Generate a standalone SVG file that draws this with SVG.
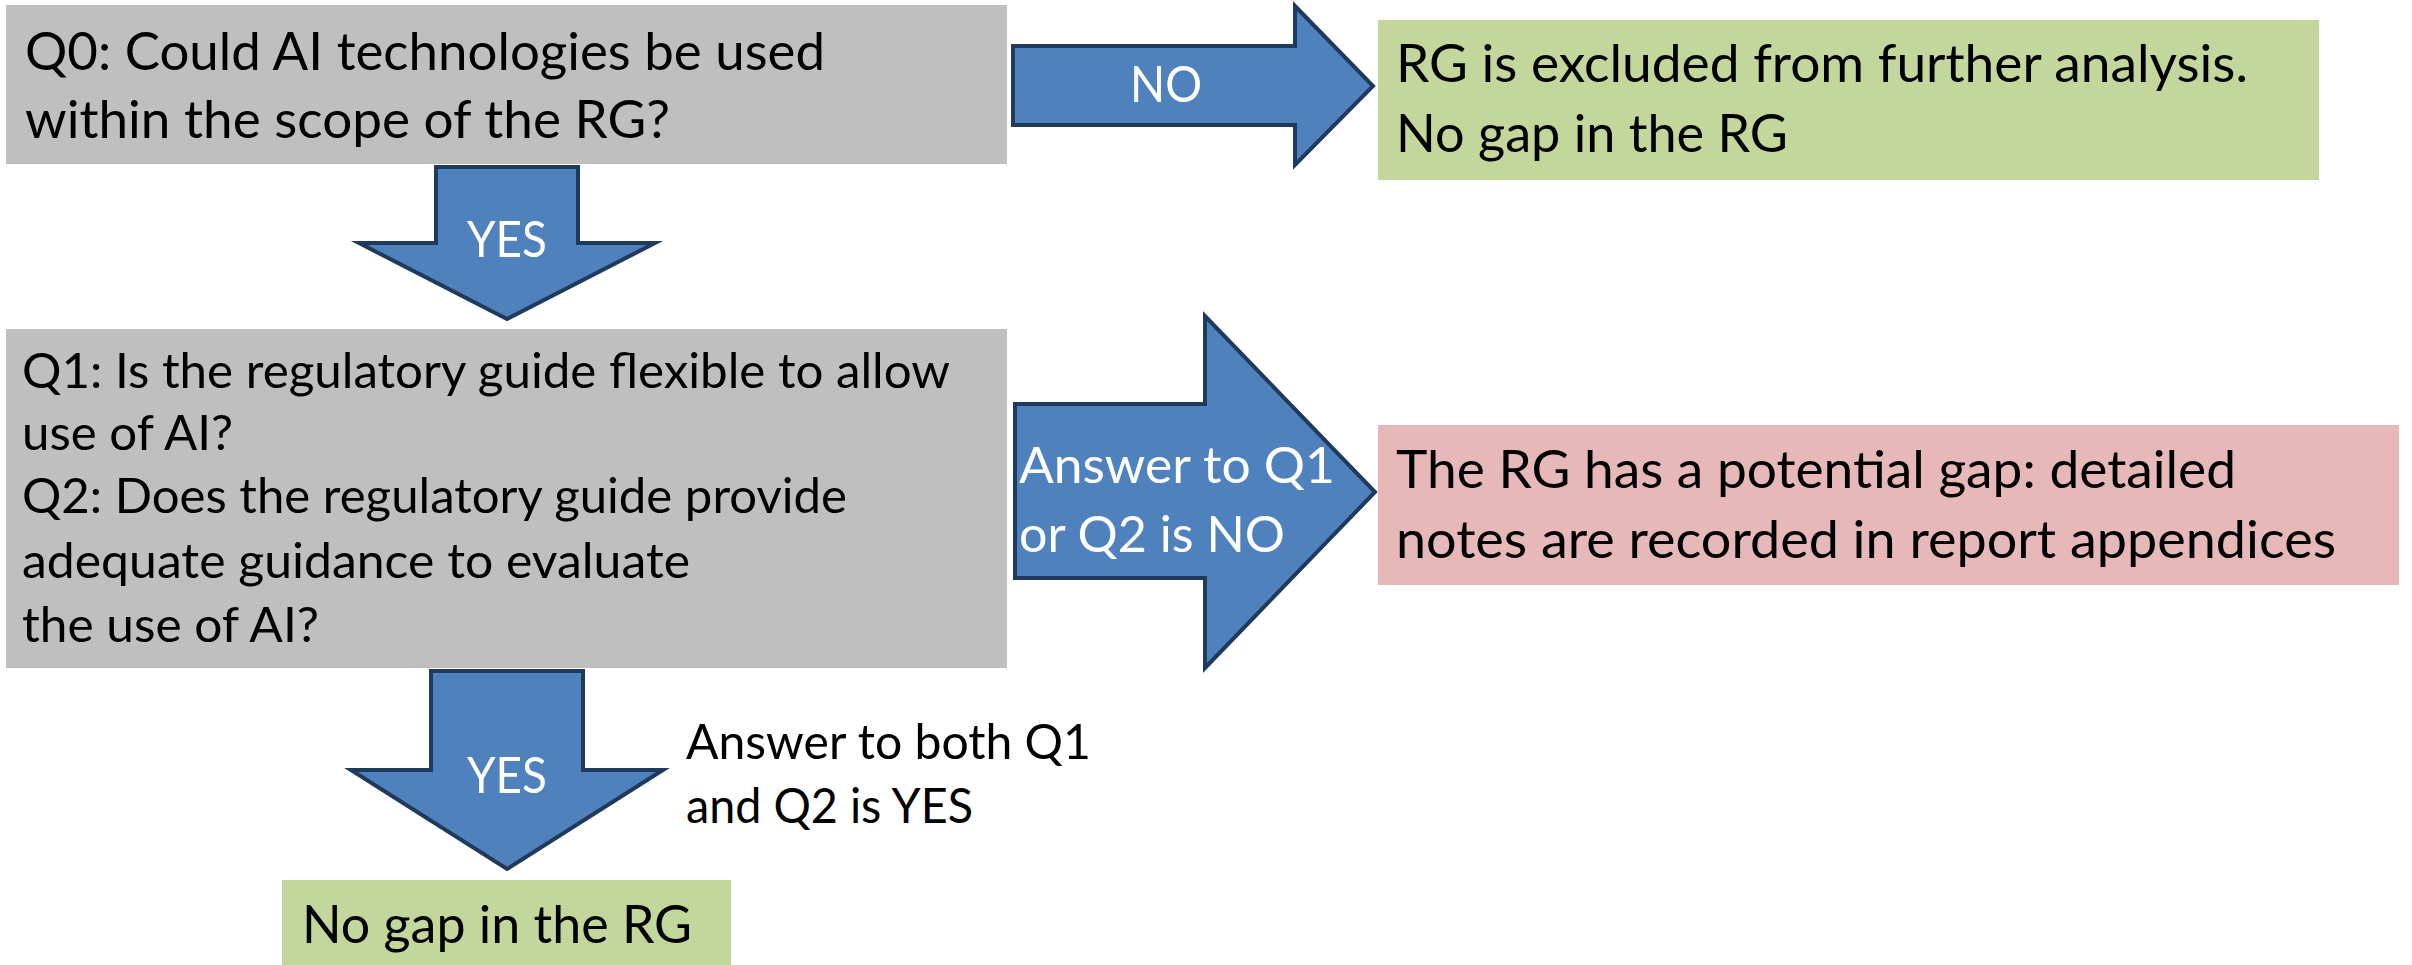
<svg xmlns="http://www.w3.org/2000/svg" width="2412" height="965" viewBox="0 0 2412 965">
  <style>
    .t { font-family: Lato, "Open Sans", "Liberation Sans", sans-serif; fill: #000000; }
    .w { font-family: Lato, "Open Sans", "Liberation Sans", sans-serif; fill: #ffffff; }
    .q0 { font-size: 52.4px; }
    .q1 { font-size: 48.3px; }
    .res { font-size: 52px; }
    .lbl { font-size: 51px; }
    .note { font-size: 48px; }
    .arrow { fill: #4f81bd; stroke: #1f3a5d; stroke-width: 4; stroke-linejoin: miter; stroke-miterlimit: 10; }
    .gray { fill: #bfbfbf; }
    .green { fill: #c3d69b; }
    .pink { fill: #e6b9b8; }
  </style>

  <rect width="2412" height="965" fill="#ffffff"/>

  <!-- block arrows between the decision boxes -->
  <g id="connectors">
    <g id="arrow-q0-yes">
      <path class="arrow" d="M436,167 L578,167 L578,243 L655,243 L507,319 L359,243 L436,243 Z"/>
      <text class="w lbl" x="507" y="257" text-anchor="middle" textLength="80" lengthAdjust="spacingAndGlyphs">YES</text>
    </g>
    <g id="arrow-q0-no">
      <path class="arrow" d="M1013,46 L1295,46 L1295,6 L1373,86 L1295,165 L1295,125 L1013,125 Z"/>
      <text class="w lbl" x="1166" y="102" text-anchor="middle" textLength="72" lengthAdjust="spacingAndGlyphs">NO</text>
    </g>
    <g id="arrow-q12-no">
      <path class="arrow" d="M1015,404 L1205,404 L1205,316 L1375,492 L1205,668 L1205,578 L1015,578 Z"/>
      <text class="w lbl" x="1019" y="483" textLength="316" lengthAdjust="spacingAndGlyphs">Answer to Q1</text>
      <text class="w lbl" x="1019" y="552" textLength="266" lengthAdjust="spacingAndGlyphs">or Q2 is NO</text>
    </g>
    <g id="arrow-q12-yes">
      <path class="arrow" d="M431,671 L583,671 L583,770 L663,770 L507,869 L351,770 L431,770 Z"/>
      <text class="w lbl" x="507" y="793" text-anchor="middle" textLength="80" lengthAdjust="spacingAndGlyphs">YES</text>
    </g>
    <g id="label-q12-yes">
      <text class="t note" x="686" y="759" textLength="405" lengthAdjust="spacingAndGlyphs">Answer to both Q1</text>
      <text class="t note" x="686" y="823" textLength="287" lengthAdjust="spacingAndGlyphs">and Q2 is YES</text>
    </g>
  </g>

  <!-- Q0 decision -->
  <g id="q0">
    <rect class="gray" x="6" y="5" width="1001" height="159"/>
    <text class="t q0" x="25" y="70" textLength="800" lengthAdjust="spacingAndGlyphs">Q0: Could AI technologies be used</text>
    <text class="t q0" x="25" y="138" textLength="645" lengthAdjust="spacingAndGlyphs">within the scope of the RG?</text>
  </g>

  <!-- RG excluded -->
  <g id="excluded">
    <rect class="green" x="1378" y="20" width="941" height="160"/>
    <text class="t res" x="1396" y="82" textLength="852" lengthAdjust="spacingAndGlyphs">RG is excluded from further analysis.</text>
    <text class="t res" x="1396" y="152" textLength="392" lengthAdjust="spacingAndGlyphs">No gap in the RG</text>
  </g>

  <!-- Q1 / Q2 decision -->
  <g id="q1q2">
    <rect class="gray" x="6" y="329" width="1001" height="339"/>
    <text class="t q1" x="22" y="388" textLength="928" lengthAdjust="spacingAndGlyphs">Q1: Is the regulatory guide flexible to allow</text>
    <text class="t q1" x="22" y="450" textLength="211" lengthAdjust="spacingAndGlyphs">use of AI?</text>
    <text class="t q1" x="22" y="513" textLength="825" lengthAdjust="spacingAndGlyphs">Q2: Does the regulatory guide provide</text>
    <text class="t q1" x="22" y="578" textLength="668" lengthAdjust="spacingAndGlyphs">adequate guidance to evaluate</text>
    <text class="t q1" x="22" y="642" textLength="297" lengthAdjust="spacingAndGlyphs">the use of AI?</text>
  </g>

  <!-- potential gap -->
  <g id="potential-gap">
    <rect class="pink" x="1378" y="425" width="1021" height="160"/>
    <text class="t res" x="1396" y="488" textLength="840" lengthAdjust="spacingAndGlyphs">The RG has a potential gap: detailed</text>
    <text class="t res" x="1396" y="558" textLength="940" lengthAdjust="spacingAndGlyphs">notes are recorded in report appendices</text>
  </g>

  <!-- no gap -->
  <g id="no-gap">
    <rect class="green" x="282" y="880" width="449" height="85"/>
    <text class="t res" x="302" y="943" textLength="390" lengthAdjust="spacingAndGlyphs">No gap in the RG</text>
  </g>
</svg>
